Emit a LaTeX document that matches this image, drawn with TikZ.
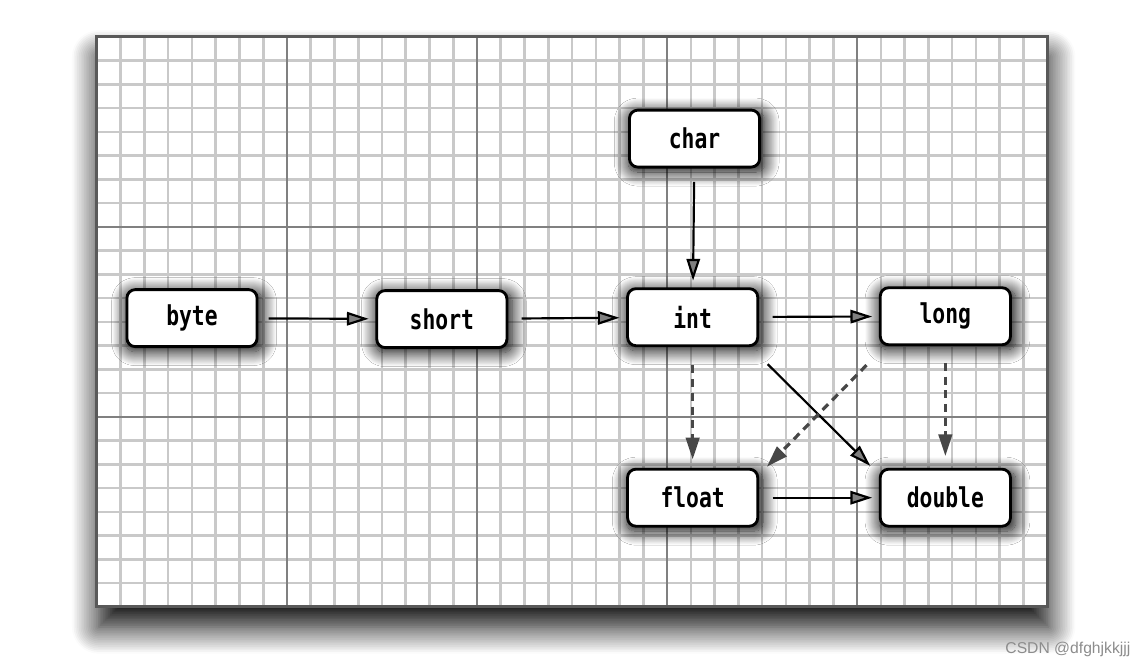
\documentclass[tikz,border=0pt]{standalone}
\usepackage{fontspec}
\newfontfamily\typefont{DejaVu Sans Mono}[FakeStretch=0.78]
\newfontfamily\markfont{Liberation Sans}
\usetikzlibrary{arrows.meta,calc,shadows.blur}
\tikzset{
	typebox/.style={draw, line width=0.85pt, rounded corners=2.5pt, fill=white,
		minimum width=1.37cm, minimum height=0.6cm, inner sep=0pt,
		font=\typefont\bfseries\fontsize{8.2}{9}\selectfont,
		blur shadow={shadow xshift=0.6pt, shadow yshift=-1pt, shadow scale=1.05,
			shadow blur radius=4pt, shadow blur steps=16, shadow opacity=100}},
	widen/.style={-{Triangle[length=6.5pt,width=4pt]}, line width=0.65pt},
	maybe/.style={widen, draw=black!72, line width=0.95pt, dash pattern=on 2.4pt off 1.7pt}
}
\begin{document}
\begin{tikzpicture}
	\useasboundingbox (-1.021, -0.642) rectangle (11.021, 6.389);
	\fill[white, blur shadow={shadow xshift=0.5pt, shadow yshift=-6pt,
		shadow blur radius=8pt, shadow blur steps=16, shadow opacity=100}] (0, 0) rectangle (10, 6);
	\draw[step=0.25, gray!42, line width=0.75pt] (0, 0) grid (10, 6);
	\draw[step=2, black!50, line width=0.7pt] (0, 0) grid (10, 6);
	\draw[black!65, line width=0.9pt] (0, 0) rectangle (10, 6);
	\node[typebox] (byte) at (1.0, 3.04) {byte};
	\node[typebox] (short) at (3.63, 3.03) {short};
	\node[typebox] (char) at (6.29, 4.93) {char};
	\node[typebox] (int) at (6.27, 3.05) {int};
	\node[typebox] (long) at (8.93, 3.06) {long};
	\node[typebox] (float) at (6.27, 1.15) {float};
	\node[typebox] (double) at (8.93, 1.15) {double};
	\draw[widen, shorten <=3pt, shorten >=2pt] (byte) -- (short);
	\draw[widen, shorten <=4pt, shorten >=2pt] (short) -- (int);
	\draw[widen, shorten <=4pt, shorten >=2pt] (int) -- (long);
	\draw[widen, shorten <=4pt, shorten >=2pt] (float) -- (double);
	\draw[widen, shorten <=4pt, shorten >=2pt] (char) -- (int);
	\draw[widen] ($(int.south east)+(0.09, -0.18)$) -- ($(double.north west)+(-0.09, 0.02)$);
	\draw[maybe, shorten <=5.5pt, shorten >=2.5pt] (int) -- (float);
	\draw[maybe, shorten <=5pt, shorten >=3.5pt] (long) -- (double);
	\draw[maybe] ($(long.south west)+(-0.13, -0.2)$) -- ($(float.north east)+(0.08, 0.01)$);
	\node[text=black!45, font=\markfont\fontsize{4.7}{5}\selectfont] (mark) at (10.22, -0.45) {CSDN @dfghjkkjjj};
\end{tikzpicture}
\end{document}
